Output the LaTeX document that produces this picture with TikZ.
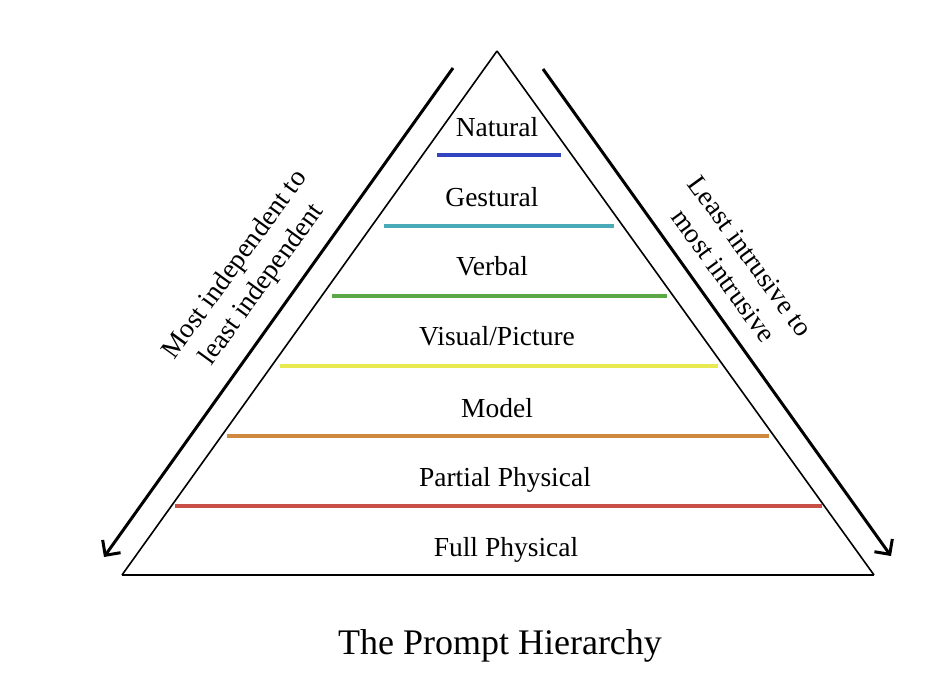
\documentclass[tikz,border=0pt]{standalone}
\usepackage{fontspec}
\setmainfont{Liberation Serif}
\usetikzlibrary{arrows.meta}
\definecolor{cblue}{HTML}{3344C0}
\definecolor{ccyan}{HTML}{4AAAB8}
\definecolor{cgreen}{HTML}{5AA845}
\definecolor{cyellow}{HTML}{E8E850}
\definecolor{corange}{HTML}{D08A40}
\definecolor{cred}{HTML}{C85048}
\tikzset{
  bar/.style={line width=3.5pt},
  lvl/.style={anchor=base, inner sep=0pt, font=\fontsize{27.5}{32}\selectfont},
  side/.style={align=center, inner sep=0pt, font=\fontsize{27.5}{33}\selectfont},
  bigarrow/.style={line width=3pt, -{Straight Barb[length=11pt,width=22pt]}},
}
\begin{document}
\begin{tikzpicture}[x=1pt,y=-1pt]
\useasboundingbox (0,0) rectangle (938,674);
% triangle
\coordinate (A) at (497,51);
\coordinate (BL) at (122,575);
\coordinate (BR) at (874,575);
\draw[line width=1.6pt] (A) -- (BL);
\draw[line width=1.6pt] (A) -- (BR);
\draw[line width=2.2pt] (BL) -- (BR);
% colored bars
\coordinate (b1l) at (437,155); \coordinate (b1r) at (561,155);
\coordinate (b2l) at (384,226); \coordinate (b2r) at (614,226);
\coordinate (b3l) at (332,296); \coordinate (b3r) at (667,296);
\coordinate (b4l) at (280,366); \coordinate (b4r) at (718,366);
\coordinate (b5l) at (227,436); \coordinate (b5r) at (769,436);
\coordinate (b6l) at (175,506); \coordinate (b6r) at (822,506);
\draw[bar,cblue] (b1l) -- (b1r);
\draw[bar,ccyan] (b2l) -- (b2r);
\draw[bar,cgreen] (b3l) -- (b3r);
\draw[bar,cyellow] (b4l) -- (b4r);
\draw[bar,corange] (b5l) -- (b5r);
\draw[bar,cred] (b6l) -- (b6r);
% level labels
\node[lvl] (natural) at (497,137) {Natural};
\node[lvl] (gestural) at (492,207) {Gestural};
\node[lvl] (verbal) at (492,276) {Verbal};
\node[lvl] (visual) at (497,345) {Visual/Picture};
\node[lvl] (model) at (497,417) {Model};
\node[lvl] (partial) at (505,486) {Partial Physical};
\node[lvl] (full) at (506,556) {Full Physical};
% side arrows
\coordinate (la) at (453,68);
\coordinate (lb) at (104,557);
\coordinate (ra) at (543,69);
\coordinate (rb) at (891,556);
\draw[bigarrow] (la) -- (lb);
\draw[bigarrow] (ra) -- (rb);
% side texts
\node[side, rotate=54] (lefttext) at (249,275) {Most independent to\\least independent};
\node[side, rotate=-54] (righttext) at (737,266) {Least intrusive to\\most intrusive};
% title
\node[anchor=base, inner sep=0pt, font=\fontsize{36}{42}\selectfont] (title) at (500,654) {The Prompt Hierarchy};
\end{tikzpicture}
\end{document}
